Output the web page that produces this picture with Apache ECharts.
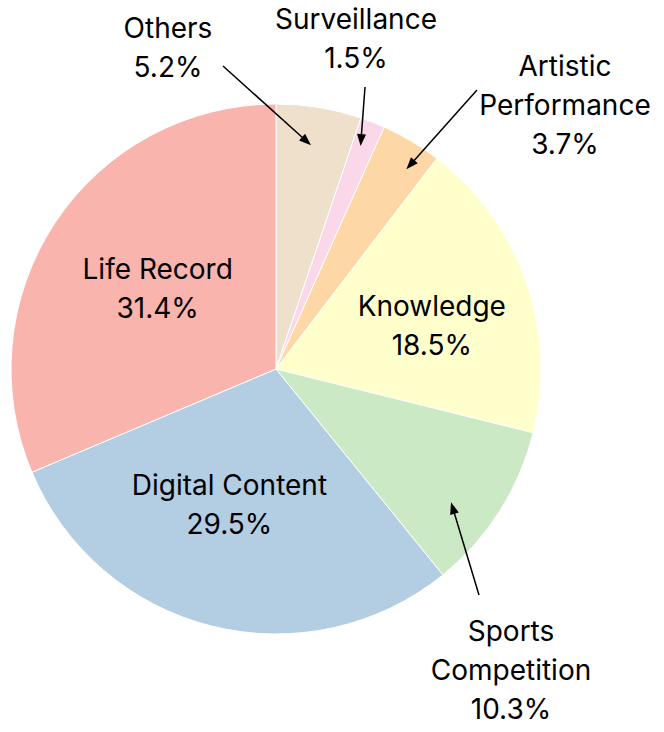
<!DOCTYPE html>
<html>
<head>
<meta charset="utf-8">
<script src="https://cdn.jsdelivr.net/npm/echarts@6/dist/echarts.min.js"></script>
<style>
  html, body { margin: 0; padding: 0; background: #fff; }
  #chart { width: 664px; height: 732px; }
</style>
</head>
<body>
<div id="chart"></div>
<script>
// slices, clockwise from 12 o'clock
const categories = ["Others", "Surveillance", "Artistic Performance", "Knowledge",
  "Sports Competition", "Digital Content", "Life Record"];
const shares = [5.2, 1.5, 3.7, 18.5, 10.3, 29.5, 31.4];
const colors = ["#EEE0CA", "#FBD7EA", "#FDD8A6", "#FFFFCC", "#CCE9C5", "#B3CDE3", "#F9B4AE"];
const wrapped = ["Artistic Performance", "Sports Competition"];

// label placement: inside labels as [radius fraction, fraction through slice]
const insideAt = {
  "Life Record": [0.54, 0.506],
  "Knowledge": [0.61, 0.558],
  "Digital Content": [0.54, 0.547]
};
// callouts: label centre, arrow tail (px) and arrow tip [radius fraction, fraction through slice]
const callouts = {
  "Others": { label: [168, 47], tail: [223, 66], tip: [0.855, 0.475] },
  "Surveillance": { label: [356, 38], tail: [365, 87], tip: [0.9, 0.385] },
  "Artistic Performance": { label: [565, 105], tail: [477, 90], tip: [0.9, 0.68] },
  "Sports Competition": { label: [511, 670], tail: [479, 595], tip: [0.83, 0.63] }
};

const chart = echarts.init(document.getElementById("chart"), null, { renderer: "svg" });

function itemLayout(idx) {
  return chart.getModel().getSeriesByIndex(0).getData().getItemLayout(idx);
}

function polar(idx, rf, af) {
  const l = itemLayout(idx);
  const a = l.startAngle + af * (l.endAngle - l.startAngle);
  return [l.cx + rf * l.r * Math.cos(a), l.cy + rf * l.r * Math.sin(a)];
}

chart.setOption({
  animation: false,
  series: [{
    type: "pie",
    center: [276, 369],
    radius: 265,
    startAngle: 90,
    clockwise: true,
    avoidLabelOverlap: false,
    itemStyle: { borderColor: "#fff", borderWidth: 1 },
    label: {
      show: true,
      position: "inside",
      color: "#000",
      fontFamily: "Inter",
      fontSize: 28,
      lineHeight: 39,
      align: "center",
      formatter: p => {
        const name = wrapped.includes(p.name) ? p.name.replace(" ", "\n") : p.name;
        return name + "\n" + p.value.toFixed(1) + "%";
      }
    },
    labelLine: { show: false },
    labelLayout: p => {
      const name = categories[p.dataIndex];
      let pos;
      if (insideAt[name]) pos = polar(p.dataIndex, insideAt[name][0], insideAt[name][1]);
      else pos = callouts[name].label;
      return { x: pos[0], y: pos[1], align: "center", verticalAlign: "middle" };
    },
    data: categories.map((c, i) => ({ name: c, value: shares[i], itemStyle: { color: colors[i] } }))
  }]
});

// arrows from callout labels into their slices (drawn above the pie)
const graphic = [];
Object.keys(callouts).forEach(name => {
  const idx = categories.indexOf(name);
  const c = callouts[name];
  const tip = polar(idx, c.tip[0], c.tip[1]);
  const dx = tip[0] - c.tail[0], dy = tip[1] - c.tail[1];
  const len = Math.hypot(dx, dy), ux = dx / len, uy = dy / len;
  const headL = 12, headW = 4.5;
  const bx = tip[0] - ux * headL, by = tip[1] - uy * headL;
  graphic.push({
    type: "line",
    z: 100,
    shape: { x1: c.tail[0], y1: c.tail[1], x2: bx + ux * 2, y2: by + uy * 2 },
    style: { stroke: "#000", lineWidth: 1.5 }
  });
  graphic.push({
    type: "polygon",
    z: 100,
    shape: { points: [tip, [bx - uy * headW, by + ux * headW], [bx + uy * headW, by - ux * headW]] },
    style: { fill: "#000" }
  });
});
chart.setOption({ graphic: graphic });
</script>
</body>
</html>
